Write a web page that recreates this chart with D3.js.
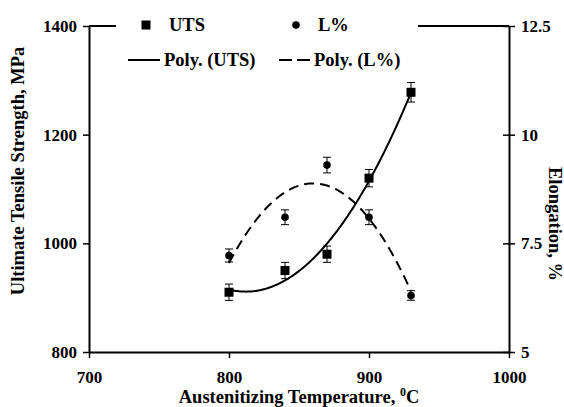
<!DOCTYPE html>
<html>
<head>
<meta charset="utf-8">
<script src="https://cdn.jsdelivr.net/npm/d3@7"></script>
<style>
  html, body { margin: 0; padding: 0; background: #fff; }
  svg { display: block; }
  text { font-family: "Liberation Serif", "Times New Roman", "DejaVu Serif", serif; font-weight: bold; fill: #000; }
</style>
</head>
<body>
<svg id="chart" width="564" height="407"></svg>
<script>
// ---- data ----
const temperatures = [800, 840, 870, 900, 930];
const utsValues = [910, 950, 980, 1120, 1278];
const utsErrors = [15, 15, 15, 16, 18];
const elongValues = [7.22, 8.1, 9.3, 8.1, 6.3];
const elongErrors = [0.15, 0.17, 0.18, 0.17, 0.11];
const xTicks = [700, 800, 900, 1000];
const yLeftTicks = [800, 1000, 1200, 1400];
const yRightTicks = [5, 7.5, 10, 12.5];
const yRightTickLabels = ["5", "7.5", "10", "12.5"];

// ---- layout ----
const L = 89, R = 509, T = 26, B = 352;
const FONT = '"Liberation Serif", "Times New Roman", serif';
const svg = d3.select("#chart").attr("font-family", FONT);

const x = d3.scaleLinear().domain([700, 1000]).range([L, R]);
const yL = d3.scaleLinear().domain([800, 1400]).range([B, T]);
const yR = d3.scaleLinear().domain([5, 12.5]).range([B, T]);

// least-squares quadratic (Excel "Poly." trendline, order 2)
function polyFit2(xs, ys) {
  let s = [0, 0, 0, 0, 0], t = [0, 0, 0];
  xs.forEach((xv, i) => {
    const u = (xv - 865) / 100;
    for (let k = 0; k < 5; k++) s[k] += Math.pow(u, k);
    for (let k = 0; k < 3; k++) t[k] += Math.pow(u, k) * ys[i];
  });
  const M = [[s[0], s[1], s[2], t[0]], [s[1], s[2], s[3], t[1]], [s[2], s[3], s[4], t[2]]];
  for (let i = 0; i < 3; i++) {
    for (let j = i + 1; j < 3; j++) {
      const f = M[j][i] / M[i][i];
      for (let k = i; k < 4; k++) M[j][k] -= f * M[i][k];
    }
  }
  const c = [0, 0, 0];
  for (let i = 2; i >= 0; i--) {
    let v = M[i][3];
    for (let k = i + 1; k < 3; k++) v -= M[i][k] * c[k];
    c[i] = v / M[i][i];
  }
  return xv => { const u = (xv - 865) / 100; return c[0] + c[1] * u + c[2] * u * u; };
}
const fitU = polyFit2(temperatures, utsValues);
const fitE = polyFit2(temperatures, elongValues);
const xs = d3.range(temperatures[0], temperatures[temperatures.length - 1] + 0.01, 1);

// ---- axes ----
const axisStyle = g => {
  g.attr("font-family", FONT);
  g.selectAll("path.domain").attr("stroke", "#000").attr("stroke-width", 2);
  g.selectAll(".tick line").attr("stroke", "#000").attr("stroke-width", 1.5);
  g.selectAll(".tick text").style("font-size", "17px").style("font-weight", "bold")
    .style("font-family", FONT);
};

svg.append("g").attr("transform", `translate(0,${B})`)
  .call(d3.axisBottom(x).tickValues(xTicks).tickSize(6).tickSizeOuter(0).tickPadding(13).tickFormat(d3.format("d")))
  .call(axisStyle);

svg.append("g").attr("transform", `translate(${L},0)`)
  .call(d3.axisLeft(yL).tickValues(yLeftTicks).tickSize(6).tickSizeOuter(0).tickPadding(6).tickFormat(d3.format("d")))
  .call(axisStyle);

const gR = svg.append("g").attr("transform", `translate(${R},0)`)
  .call(d3.axisRight(yR).tickValues(yRightTicks).tickSize(6).tickSizeOuter(0).tickPadding(6)
    .tickFormat((d, i) => yRightTickLabels[i]))
  .call(axisStyle);
gR.selectAll(".tick line").attr("x1", -6);

// top border
svg.append("line").attr("x1", L).attr("x2", R).attr("y1", T).attr("y2", T)
  .attr("stroke", "#000").attr("stroke-width", 2);

// ---- trendlines ----
svg.append("path").datum(xs)
  .attr("d", d3.line().x(d => x(d)).y(d => yL(fitU(d))))
  .attr("fill", "none").attr("stroke", "#000").attr("stroke-width", 2);
svg.append("path").datum(xs)
  .attr("d", d3.line().x(d => x(d)).y(d => yR(fitE(d))))
  .attr("fill", "none").attr("stroke", "#000").attr("stroke-width", 2)
  .attr("stroke-dasharray", "10,6");

// ---- error bars ----
function errBars(vals, errs, y) {
  const g = svg.append("g").attr("stroke", "#000").attr("stroke-width", 1);
  temperatures.forEach((t, i) => {
    const cx = x(t), y1 = y(vals[i] - errs[i]), y2 = y(vals[i] + errs[i]);
    g.append("line").attr("x1", cx).attr("x2", cx).attr("y1", y1).attr("y2", y2);
    g.append("line").attr("x1", cx - 4).attr("x2", cx + 4).attr("y1", y1).attr("y2", y1);
    g.append("line").attr("x1", cx - 4).attr("x2", cx + 4).attr("y1", y2).attr("y2", y2);
  });
}
errBars(utsValues, utsErrors, yL);
errBars(elongValues, elongErrors, yR);

// ---- markers ----
svg.append("g").selectAll("rect").data(temperatures).join("rect")
  .attr("x", d => x(d) - 4.5).attr("y", (d, i) => yL(utsValues[i]) - 4.5)
  .attr("width", 9).attr("height", 9).attr("fill", "#000");
svg.append("g").selectAll("circle").data(temperatures).join("circle")
  .attr("cx", d => x(d)).attr("cy", (d, i) => yR(elongValues[i]))
  .attr("r", 3.8).attr("fill", "#000");

// ---- legend ----
const LF = "18.5px";
const lg = svg.append("g");
lg.append("rect").attr("x", 116).attr("y", 12).attr("width", 302).attr("height", 60).attr("fill", "#fff");
const lRow1 = 25, lRow2 = 60;
lg.append("rect").attr("x", 141.5).attr("y", lRow1 - 4.5).attr("width", 9).attr("height", 9).attr("fill", "#000");
lg.append("text").attr("x", 169).attr("y", lRow1 + 6).style("font-size", LF).text("UTS");
lg.append("circle").attr("cx", 296).attr("cy", lRow1).attr("r", 3.8).attr("fill", "#000");
lg.append("text").attr("x", 318).attr("y", lRow1 + 6).style("font-size", LF).text("L%");
lg.append("line").attr("x1", 128).attr("x2", 160).attr("y1", lRow2).attr("y2", lRow2)
  .attr("stroke", "#000").attr("stroke-width", 2);
lg.append("text").attr("x", 164).attr("y", lRow2 + 6).style("font-size", LF).text("Poly. (UTS)");
lg.append("line").attr("x1", 279).attr("x2", 310).attr("y1", lRow2).attr("y2", lRow2)
  .attr("stroke", "#000").attr("stroke-width", 2).attr("stroke-dasharray", "13,5");
lg.append("text").attr("x", 314).attr("y", lRow2 + 6).style("font-size", LF).text("Poly. (L%)");

// ---- axis titles ----
const xt = svg.append("text").attr("x", (L + R) / 2).attr("y", 403).attr("text-anchor", "middle")
  .style("font-size", "18.5px");
xt.append("tspan").text("Austenitizing Temperature, ");
xt.append("tspan").attr("dy", -7).style("font-size", "12px").text("0");
xt.append("tspan").attr("dy", 7).text("C");

svg.append("text").attr("transform", `translate(24,171) rotate(-90)`)
  .attr("text-anchor", "middle").style("font-size", "18.5px")
  .text("Ultimate Tensile Strength, MPa");
svg.append("text").attr("transform", `translate(549,224) rotate(90)`)
  .attr("text-anchor", "middle").style("font-size", "18.5px")
  .text("Elongation, %");
</script>
</body>
</html>
